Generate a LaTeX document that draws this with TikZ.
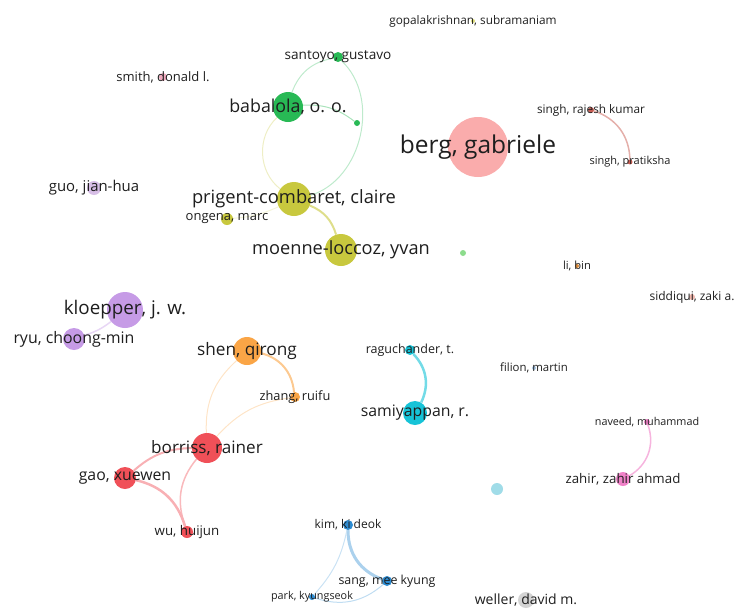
\documentclass[tikz,border=0pt]{standalone}
\usepackage{fontspec}
\setmainfont{Open Sans}
\usepackage{tikz}
\usetikzlibrary{backgrounds}
\def\fs#1{\fontsize{#1}{#1}\selectfont}

\definecolor{txt}{RGB}{30,30,30}
\definecolor{cgreen}{RGB}{40,185,85}
\definecolor{clgreen}{RGB}{140,220,140}
\definecolor{cberg}{RGB}{250,172,172}
\definecolor{colive}{RGB}{200,200,62}
\definecolor{cpurple}{RGB}{198,155,230}
\definecolor{clpurple}{RGB}{215,190,230}
\definecolor{corange}{RGB}{250,165,70}
\definecolor{ccyan}{RGB}{22,195,215}
\definecolor{clcyan}{RGB}{160,220,232}
\definecolor{cred}{RGB}{240,80,88}
\definecolor{cblue}{RGB}{45,140,210}
\definecolor{cpink}{RGB}{240,130,200}
\definecolor{cgray}{RGB}{212,212,212}
\definecolor{csmith}{RGB}{240,170,190}
\definecolor{cdred}{RGB}{200,95,85}
\definecolor{cgopal}{RGB}{220,220,120}
\definecolor{cli}{RGB}{220,140,60}
\definecolor{csidd}{RGB}{240,182,172}
\definecolor{cfilion}{RGB}{170,200,230}

\tikzset{
  au/.style={circle, inner sep=0pt, minimum size=#1},
  lbl/.style={text=txt, inner sep=0pt},
  link/.style={draw=#1, line width=1pt}
}

\begin{document}
\begin{tikzpicture}[x=1pt, y=-1pt]
			%%%%% START %%%%%
			\useasboundingbox (0,0) rectangle (735,608);

			% green / olive cluster
			\node[au=4, fill=cgopal] (gopal) at (473,21) {};
			\node[au=10, fill=cgreen] (santoyo) at (338,57) {};
			\node[au=8, fill=csmith] (smith) at (163,77) {};
			\node[au=30, fill=cgreen] (babalola) at (288,107) {};
			\node[au=6, fill=cgreen] (dotg) at (357,123) {};
			\node[au=34, fill=colive] (prigent) at (294,199) {};
			\node[au=12, fill=colive] (ongena) at (227,219) {};
			\node[au=32, fill=colive] (moenne) at (341,250) {};
			\node[au=6, fill=clgreen] (dotlg) at (463,253) {};

			% berg and singh
			\node[au=60, fill=cberg] (berg) at (478,147) {};
			\node[au=6, fill=cdred] (rajesh) at (591,110) {};
			\node[au=5, fill=cdred] (pratiksha) at (630,162) {};

			% loose ones
			\node[au=14, fill=clpurple] (guo) at (94,188) {};
			\node[au=4, fill=cli] (li) at (577,266) {};
			\node[au=6, fill=csidd] (siddiqui) at (692,297) {};
			\node[au=4, fill=cfilion] (filion) at (534,368) {};
			\node[au=12, fill=clcyan] (dotlc) at (497,489) {};
			\node[au=16, fill=cgray] (weller) at (526,600) {};

			% purple pair
			\node[au=36, fill=cpurple] (kloepper) at (125,310) {};
			\node[au=22, fill=cpurple] (ryu) at (74,339) {};

			% orange / red cluster
			\node[au=28, fill=corange] (shen) at (247,351) {};
			\node[au=10, fill=corange] (zhang) at (295,397) {};
			\node[au=30, fill=cred] (borriss) at (207,448) {};
			\node[au=22, fill=cred] (gao) at (125,478) {};
			\node[au=12, fill=cred] (wu) at (187,532) {};

			% cyan pair
			\node[au=10, fill=ccyan] (raguchander) at (410,350) {};
			\node[au=24, fill=ccyan] (samiyappan) at (415,413) {};

			% pink pair
			\node[au=6, fill=cpink] (naveed) at (647,422) {};
			\node[au=14, fill=cpink] (zahir) at (623,479) {};

			% blue cluster
			\node[au=10, fill=cblue] (kim) at (348,525) {};
			\node[au=10, fill=cblue] (sang) at (387,581) {};
			\node[au=6, fill=cblue] (park) at (312,597) {};

			% links
			\begin{scope}[on background layer]
			\draw[link=cgreen!30] (santoyo) to[bend right=30] (babalola);
			\draw[link=cgreen!30] (santoyo) to[bend left=60] (prigent);
			\draw[link=cgreen!40] (babalola) to[bend left=20] (dotg);
			\draw[link=colive!30] (babalola) to[bend right=50] (prigent);
			\draw[link=colive!60, line width=2pt] (prigent) to[bend left=25] (moenne);
			\draw[link=colive!20] (prigent) to[bend left=10] (ongena);
			\draw[link=cdred!50, line width=1.5pt] (rajesh) to[bend left=35] (pratiksha);
			\draw[link=cpurple!40, line width=1.5pt] (kloepper) to[bend left=10] (ryu);
			\draw[link=corange!60, line width=2pt] (shen) to[bend left=35] (zhang);
			\draw[link=corange!30] (shen) to[bend right=25] (borriss);
			\draw[link=corange!30] (zhang) to[bend right=20] (borriss);
			\draw[link=cred!45, line width=2pt] (borriss) to[bend right=20] (gao);
			\draw[link=cred!40, line width=1.5pt] (borriss) to[bend right=30] (wu);
			\draw[link=cred!45, line width=2.5pt] (gao) to[bend left=30] (wu);
			\draw[link=ccyan!60, line width=2.5pt] (raguchander) to[bend left=35] (samiyappan);
			\draw[link=cpink!60, line width=1.5pt] (naveed) to[bend left=40] (zahir);
			\draw[link=cblue!40, line width=3pt] (kim) to[bend right=35] (sang);
			\draw[link=cblue!25] (kim) to[bend left=15] (park);
			\draw[link=cblue!30] (park) to[bend right=30] (sang);
			\end{scope}

			% labels
			\node[lbl, font=\fs{11.8}] (gopal-t) at (gopal) {gopalakrishnan, subramaniam};
			\node[lbl, font=\fs{13.6}] (santoyo-t) at (santoyo) {santoyo, gustavo};
			\node[lbl, font=\fs{13}] (smith-t) at (smith) {smith, donald l.};
			\node[lbl, font=\fs{17.8}] (babalola-t) at (babalola) {babalola, o. o.};
			\node[lbl, font=\fs{24.5}] (berg-t) at (berg) {berg, gabriele};
			\node[lbl, font=\fs{11.8}] (rajesh-t) at (rajesh) {singh, rajesh kumar};
			\node[lbl, font=\fs{11}] (pratiksha-t) at (pratiksha) {singh, pratiksha};
			\node[lbl, font=\fs{14.9}] (guo-t) at (guo) {guo, jian-hua};
			\node[lbl, font=\fs{18.3}] (prigent-t) at (prigent) {prigent-combaret, claire};
			\node[lbl, font=\fs{13}] (ongena-t) at (ongena) {ongena, marc};
			\node[lbl, font=\fs{18.2}] (moenne-t) at (moenne) {moenne-loccoz, yvan};
			\node[lbl, font=\fs{11.2}] (li-t) at (li) {li, bin};
			\node[lbl, font=\fs{12}] (siddiqui-t) at (siddiqui) {siddiqui, zaki a.};
			\node[lbl, font=\fs{18.8}] (kloepper-t) at (kloepper) {kloepper, j. w.};
			\node[lbl, font=\fs{15.9}] (ryu-t) at (ryu) {ryu, choong-min};
			\node[lbl, font=\fs{17.2}] (shen-t) at (shen) {shen, qirong};
			\node[lbl, font=\fs{12.8}] (zhang-t) at (zhang) {zhang, ruifu};
			\node[lbl, font=\fs{12.5}] (raguchander-t) at (raguchander) {raguchander, t.};
			\node[lbl, font=\fs{11.4}] (filion-t) at (filion) {filion, martin};
			\node[lbl, font=\fs{15.8}] (samiyappan-t) at (samiyappan) {samiyappan, r.};
			\node[lbl, font=\fs{17.1}] (borriss-t) at (borriss) {borriss, rainer};
			\node[lbl, font=\fs{15.8}] (gao-t) at (gao) {gao, xuewen};
			\node[lbl, font=\fs{13.3}] (wu-t) at (wu) {wu, huijun};
			\node[lbl, font=\fs{10.8}] (naveed-t) at (naveed) {naveed, muhammad};
			\node[lbl, font=\fs{13.3}] (zahir-t) at (zahir) {zahir, zahir ahmad};
			\node[lbl, font=\fs{12}] (kim-t) at (kim) {kim, ki deok};
			\node[lbl, font=\fs{12.4}] (sang-t) at (sang) {sang, mee kyung};
			\node[lbl, font=\fs{10.8}] (park-t) at (park) {park, kyungseok};
			\node[lbl, font=\fs{14}] (weller-t) at (weller) {weller, david m.};
			%%%%% END %%%%%
\end{tikzpicture}
\end{document}
